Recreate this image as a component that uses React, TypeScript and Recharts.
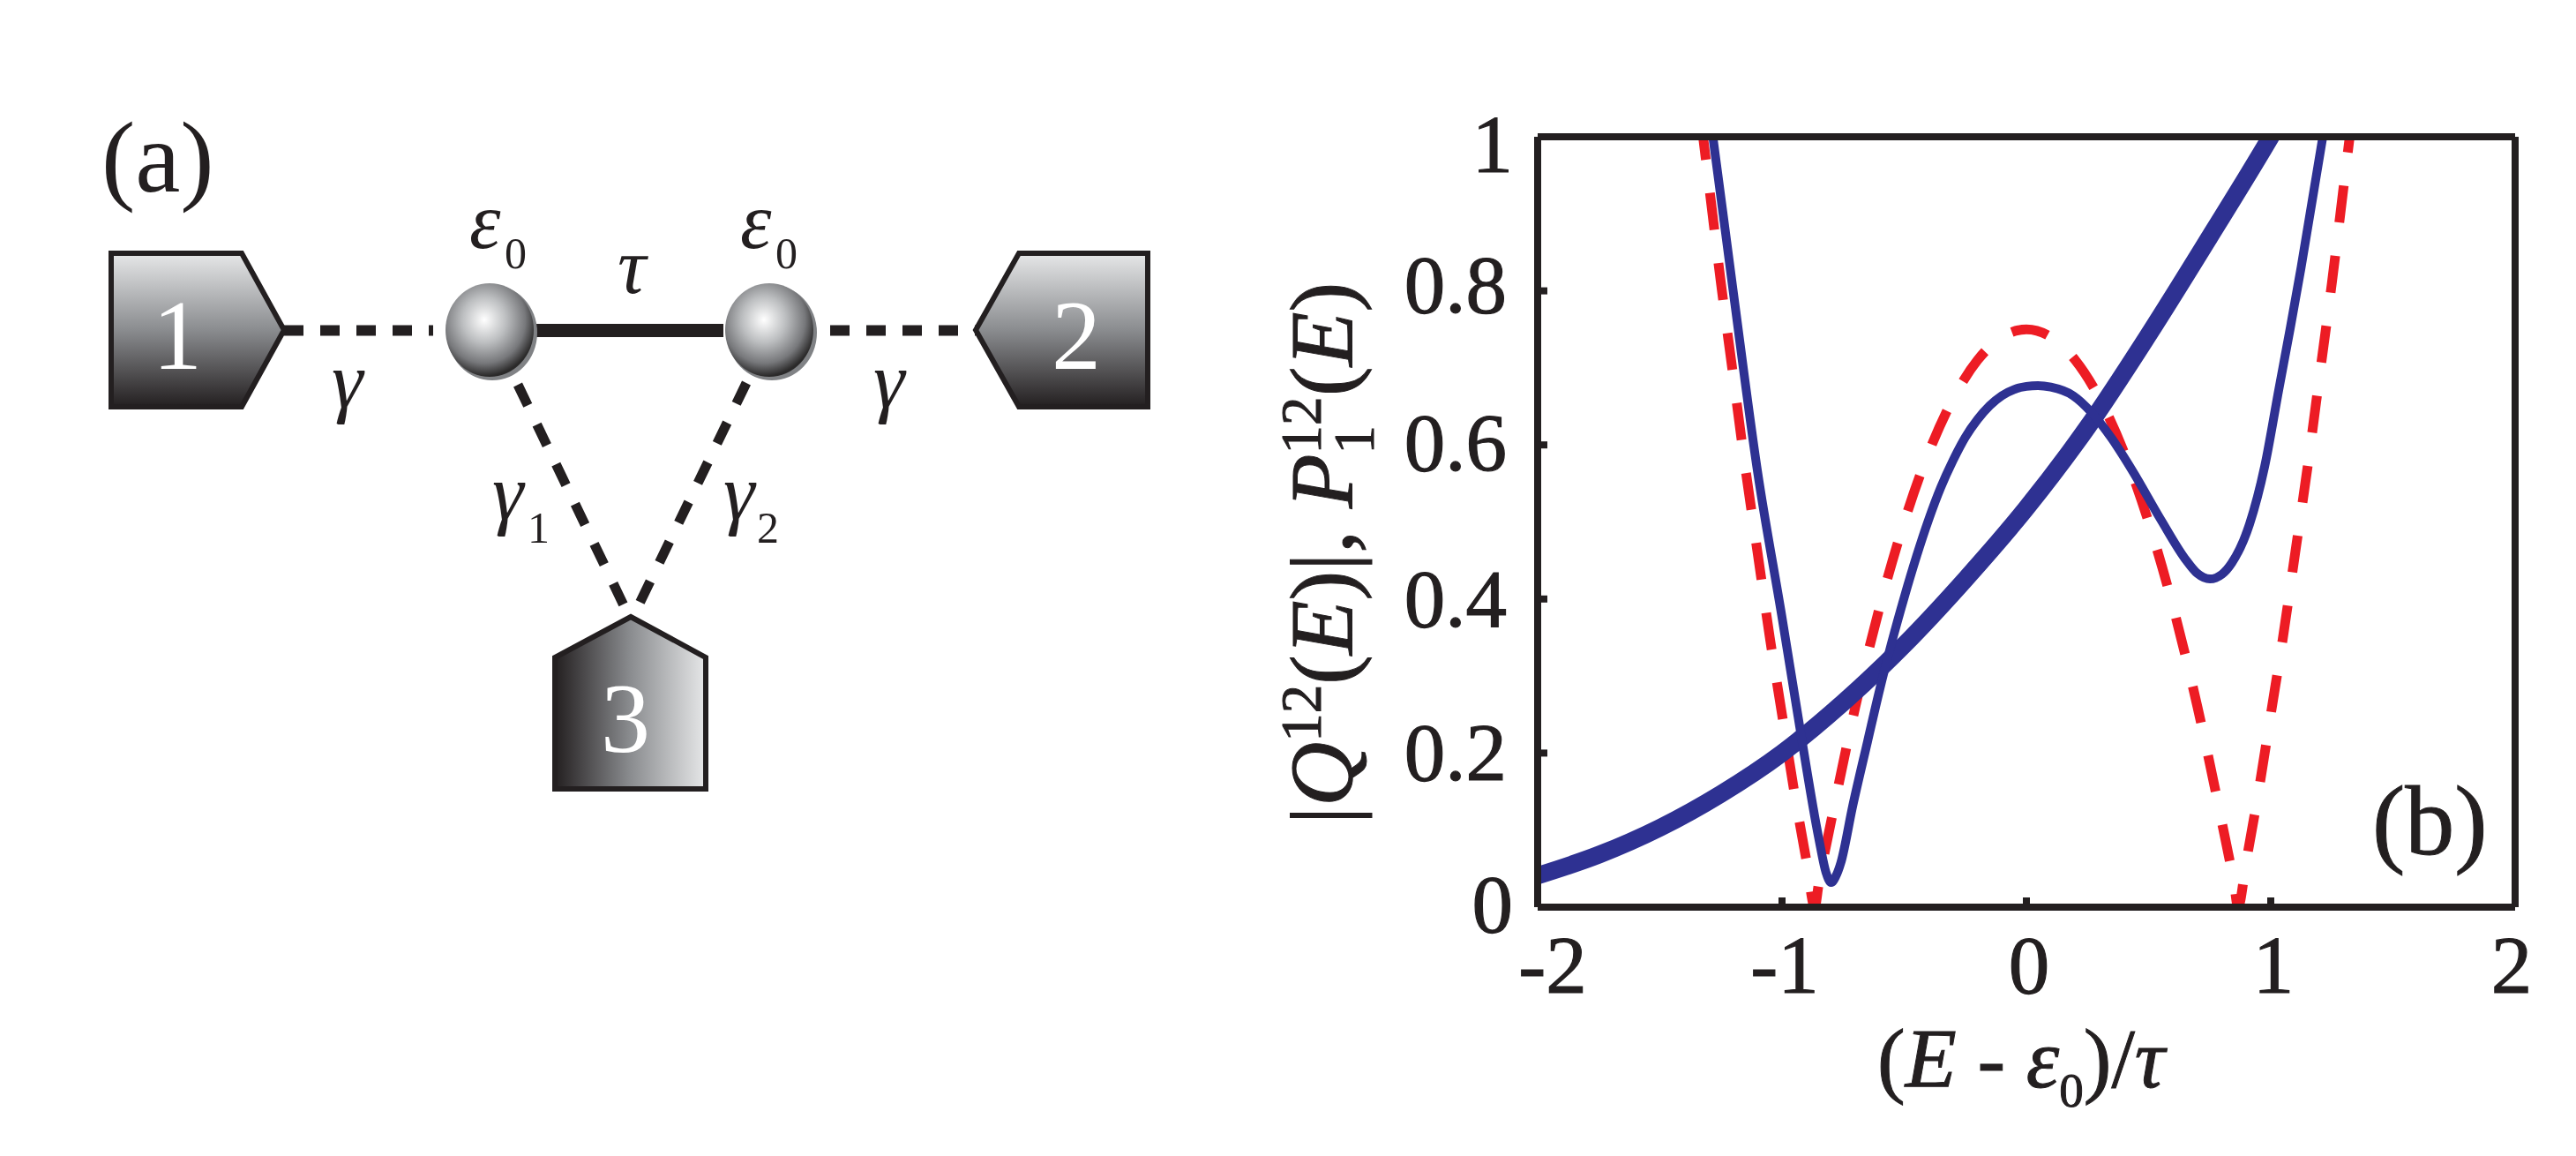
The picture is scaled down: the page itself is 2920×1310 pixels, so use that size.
import { Line, LineChart, XAxis, YAxis } from "recharts";

const INK = "#231f20";
const BLUE = "#2e3192";
const RED = "#ed1c24";
const SERIF = "'Liberation Serif', 'Times New Roman', serif";

const xTicks = [-2, -1, 0, 1, 2];
const yTicks = [0, 0.2, 0.4, 0.6, 0.8, 1];

// |Q12(E)|, thick blue
const thickE = [-2, -1.75, -1.5, -1.25, -1, -0.75, -0.5, -0.25, 0, 0.25, 0.5, 0.75, 1, 1.1];
const thickV = [0.041, 0.068, 0.103, 0.147, 0.2, 0.2655, 0.3405, 0.4255, 0.518, 0.623, 0.743, 0.87, 1, 1.055];

// P1 12(E), thin blue
const thinE = [-1.35, -1.283, -1.2, -1.1, -1, -0.928, -0.85, -0.82, -0.799, -0.78, -0.759, -0.711, -0.65, -0.6, -0.55, -0.5, -0.45, -0.4, -0.35, -0.3, -0.25, -0.2, -0.15, -0.1, -0.05, 0, 0.047, 0.1, 0.191, 0.264, 0.35, 0.433, 0.552, 0.65, 0.7, 0.751, 0.8, 0.841, 0.913, 0.975, 1.033, 1.08, 1.124, 1.213, 1.28];
const thinV = [1.15, 1, 0.8, 0.565, 0.376, 0.235, 0.09, 0.045, 0.032, 0.04, 0.058, 0.131, 0.215, 0.283, 0.345, 0.402, 0.455, 0.503, 0.545, 0.58, 0.61, 0.633, 0.651, 0.664, 0.672, 0.676, 0.677, 0.675, 0.664, 0.643, 0.608, 0.567, 0.502, 0.452, 0.433, 0.426, 0.432, 0.447, 0.497, 0.572, 0.672, 0.752, 0.83, 1, 1.14];

// dashed red
const redE = [-1.33, -1.3, -1.25, -1.2, -1.15, -1.1, -1.05, -1, -0.95, -0.9, -0.866, -0.85, -0.8, -0.7, -0.6, -0.5, -0.4, -0.3, -0.2, -0.1, 0, 0.1, 0.2, 0.3, 0.4, 0.5, 0.6, 0.7, 0.8, 0.85, 0.866, 0.9, 0.95, 1, 1.05, 1.1, 1.15, 1.2, 1.25, 1.3, 1.35];
const redV = [1.018, 0.94, 0.81, 0.69, 0.57, 0.46, 0.35, 0.25, 0.15, 0.06, 0, 0.03, 0.11, 0.26, 0.39, 0.5, 0.59, 0.66, 0.71, 0.74, 0.75, 0.74, 0.71, 0.66, 0.59, 0.5, 0.39, 0.26, 0.11, 0.03, 0, 0.06, 0.15, 0.25, 0.35, 0.46, 0.57, 0.69, 0.81, 0.94, 1.07];

const pairs = (xs: number[], ys: number[]) => xs.map((e, i) => ({ e, v: ys[i] }));

const axisStyle = { stroke: INK, strokeWidth: 8 };
const tickFont = { fill: INK, fontFamily: SERIF, fontSize: 93, stroke: INK, strokeWidth: 1.2 };

// the labels sit a little off their ticks in the original
function YTick({ x, y, payload }: any) {
  const shift = payload.value === 1 ? 9 : payload.value === 0.8 ? -7 : payload.value === 0.6 ? -2 : payload.value === 0 ? -3 : 0;
  return (
    <text x={x + (payload.value === 1 || payload.value === 0 ? 7 : 0)} y={y + 31 + shift} textAnchor="end" {...tickFont}>
      {payload.value}
    </text>
  );
}

function XTick({ x, y, payload }: any) {
  const shift = payload.value === -2 ? 17 : payload.value === 2 ? -4 : 3;
  return (
    <text x={x + shift} y={y + 63} textAnchor="middle" {...tickFont}>
      {payload.value}
    </text>
  );
}

function Sphere({ id, cx }: { id: string; cx: number }) {
  return (
    <g>
      <ellipse cx={cx + 3} cy={377} rx={51} ry={54} fill="#808285" />
      <ellipse cx={cx} cy={374} rx={50} ry={53} fill={`url(#${id})`} />
    </g>
  );
}

// Left panel: the three-terminal schematic
function Schematic() {
  const dash = { stroke: INK, fill: "none" };
  const greek = { fontFamily: SERIF, fontStyle: "italic", fontSize: 90, fill: INK };
  const sub = { fontFamily: SERIF, fontSize: 50, fill: INK };
  const digit = { fontFamily: SERIF, fontSize: 112, fill: "#fff", textAnchor: "middle" as const };
  return (
    <g>
      <defs>
        <linearGradient id="leadV" x1="0" y1="0" x2="0" y2="1">
          <stop offset="0" stopColor="#e6e7e8" />
          <stop offset="0.5" stopColor="#8a8c8f" />
          <stop offset="1" stopColor="#231f20" />
        </linearGradient>
        <linearGradient id="leadH" x1="0" y1="0" x2="1" y2="0">
          <stop offset="0" stopColor="#231f20" />
          <stop offset="0.5" stopColor="#8a8c8f" />
          <stop offset="1" stopColor="#e6e7e8" />
        </linearGradient>
        <radialGradient id="ball" cx="0.44" cy="0.39" r="0.62">
          <stop offset="0" stopColor="#ffffff" />
          <stop offset="0.4" stopColor="#bcbec0" />
          <stop offset="0.75" stopColor="#77787b" />
          <stop offset="0.97" stopColor="#2b2a2a" />
        </radialGradient>
      </defs>
      <line x1={607} y1={374.5} x2={820} y2={374.5} stroke={INK} strokeWidth={15} />
      <line x1={322} y1={374.5} x2={491} y2={374.5} {...dash} strokeWidth={12} strokeDasharray="22 19" />
      <line x1={941} y1={374.5} x2={1106} y2={374.5} {...dash} strokeWidth={12} strokeDasharray="22 19" />
      <line x1={587} y1={436} x2={707} y2={686} {...dash} strokeWidth={11} strokeDasharray="26 24" />
      <line x1={846} y1={434} x2={719} y2={696} {...dash} strokeWidth={11} strokeDasharray="26 24" />
      <polygon points="126,287 274,287 322,374 274,461 126,461" fill="url(#leadV)" stroke={INK} strokeWidth={6} />
      <polygon points="1301,287 1155,287 1106,374 1155,461 1301,461" fill="url(#leadV)" stroke={INK} strokeWidth={6} />
      <polygon points="715,699 800,745 800,894 629,894 629,745" fill="url(#leadH)" stroke={INK} strokeWidth={6} />
      <Sphere id="ball" cx={555} />
      <Sphere id="ball" cx={872} />
      <text x={201} y={418} {...digit}>1</text>
      <text x={1220} y={418} {...digit}>2</text>
      <text x={709} y={852} {...digit}>3</text>
      <text x={115} y={217} fontFamily={SERIF} fontSize={115} fill={INK}>(a)</text>
      <text x={532} y={281} {...greek}>ε</text>
      <text x={572} y={304} {...sub}>0</text>
      <text x={839} y={281} {...greek}>ε</text>
      <text x={879} y={304} {...sub}>0</text>
      <text x={700} y={332} {...greek}>τ</text>
      <text x={376} y={462} {...greek}>γ</text>
      <text x={990} y={462} {...greek}>γ</text>
      <text x={558} y={589} {...greek}>γ</text>
      <text x={598} y={615} {...sub}>1</text>
      <text x={820} y={589} {...greek}>γ</text>
      <text x={858} y={615} {...sub}>2</text>
    </g>
  );
}

// Axis titles and the panel tag of the right plot
function PlotLabels() {
  const base = { fontFamily: SERIF, fill: INK, stroke: INK, strokeWidth: 1 };
  return (
    <g>
      <text x={2128} y={1232} fontSize={95} {...base}>
        (<tspan fontStyle="italic">E</tspan> - <tspan fontStyle="italic">ε</tspan>
        <tspan fontSize={55} dy={22}>0</tspan>
        <tspan dy={-22}>)/</tspan>
        <tspan fontStyle="italic">τ</tspan>
      </text>
      <text transform="translate(1533 934) rotate(-90)" fontSize={101} {...base}>
        |<tspan fontStyle="italic">Q</tspan>
        <tspan fontSize={65} dy={-36}>12</tspan>
        <tspan dy={36}>(</tspan>
        <tspan fontStyle="italic">E</tspan>)|, <tspan fontStyle="italic">P</tspan>
        <tspan fontSize={65} dy={-36}>12</tspan>
        <tspan fontSize={65} dy={60} dx={-65}>1</tspan>
        <tspan dy={-24} dx={33}>(</tspan>
        <tspan fontStyle="italic">E</tspan>)
      </text>
      <text x={2689} y={968} fontSize={112} {...base}>(b)</text>
    </g>
  );
}

export default function App() {
  return (
    <div style={{ position: "absolute", left: 0, top: 0, width: 2920, height: 1310, background: "#fff" }}>
      <LineChart
        width={2920}
        height={1310}
        margin={{ top: 154, right: 68, bottom: 182, left: 1543 }}
        style={{ position: "absolute", left: 0, top: 0 }}
      >
        <XAxis
          xAxisId="b"
          dataKey="e"
          type="number"
          domain={[-2, 2]}
          ticks={xTicks}
          interval={0}
          height={100}
          axisLine={axisStyle}
          tickLine={axisStyle}
          tickSize={-11}
          tickMargin={45}
          tick={<XTick />}
        />
        <XAxis
          xAxisId="t"
          orientation="top"
          dataKey="e"
          type="number"
          domain={[-2, 2]}
          ticks={xTicks}
          interval={0}
          height={1}
          axisLine={axisStyle}
          tickLine={axisStyle}
          tickSize={-11}
          tick={false}
        />
        <YAxis
          yAxisId="l"
          type="number"
          domain={[0, 1]}
          ticks={yTicks}
          interval={0}
          allowDataOverflow
          width={200}
          axisLine={axisStyle}
          tickLine={axisStyle}
          tickSize={-11}
          tickMargin={46}
          tick={<YTick />}
        />
        <YAxis
          yAxisId="r"
          orientation="right"
          type="number"
          domain={[0, 1]}
          ticks={yTicks}
          interval={0}
          width={1}
          axisLine={axisStyle}
          tickLine={axisStyle}
          tickSize={-11}
          tick={false}
        />
        <Line
          xAxisId="b"
          yAxisId="l"
          data={pairs(redE, redV)}
          dataKey="v"
          type="monotoneX"
          stroke={RED}
          strokeWidth={11}
          strokeDasharray="42 38"
          dot={false}
          isAnimationActive={false}
        />
        <Line
          xAxisId="b"
          yAxisId="l"
          data={pairs(thickE, thickV)}
          dataKey="v"
          type="monotoneX"
          stroke={BLUE}
          strokeWidth={20}
          dot={false}
          isAnimationActive={false}
        />
        <Line
          xAxisId="b"
          yAxisId="l"
          data={pairs(thinE, thinV)}
          dataKey="v"
          type="monotoneX"
          stroke={BLUE}
          strokeWidth={10}
          dot={false}
          isAnimationActive={false}
        />
      </LineChart>
      <svg width={2920} height={1310} style={{ position: "absolute", left: 0, top: 0, pointerEvents: "none" }}>
        <Schematic />
        <PlotLabels />
      </svg>
    </div>
  );
}
